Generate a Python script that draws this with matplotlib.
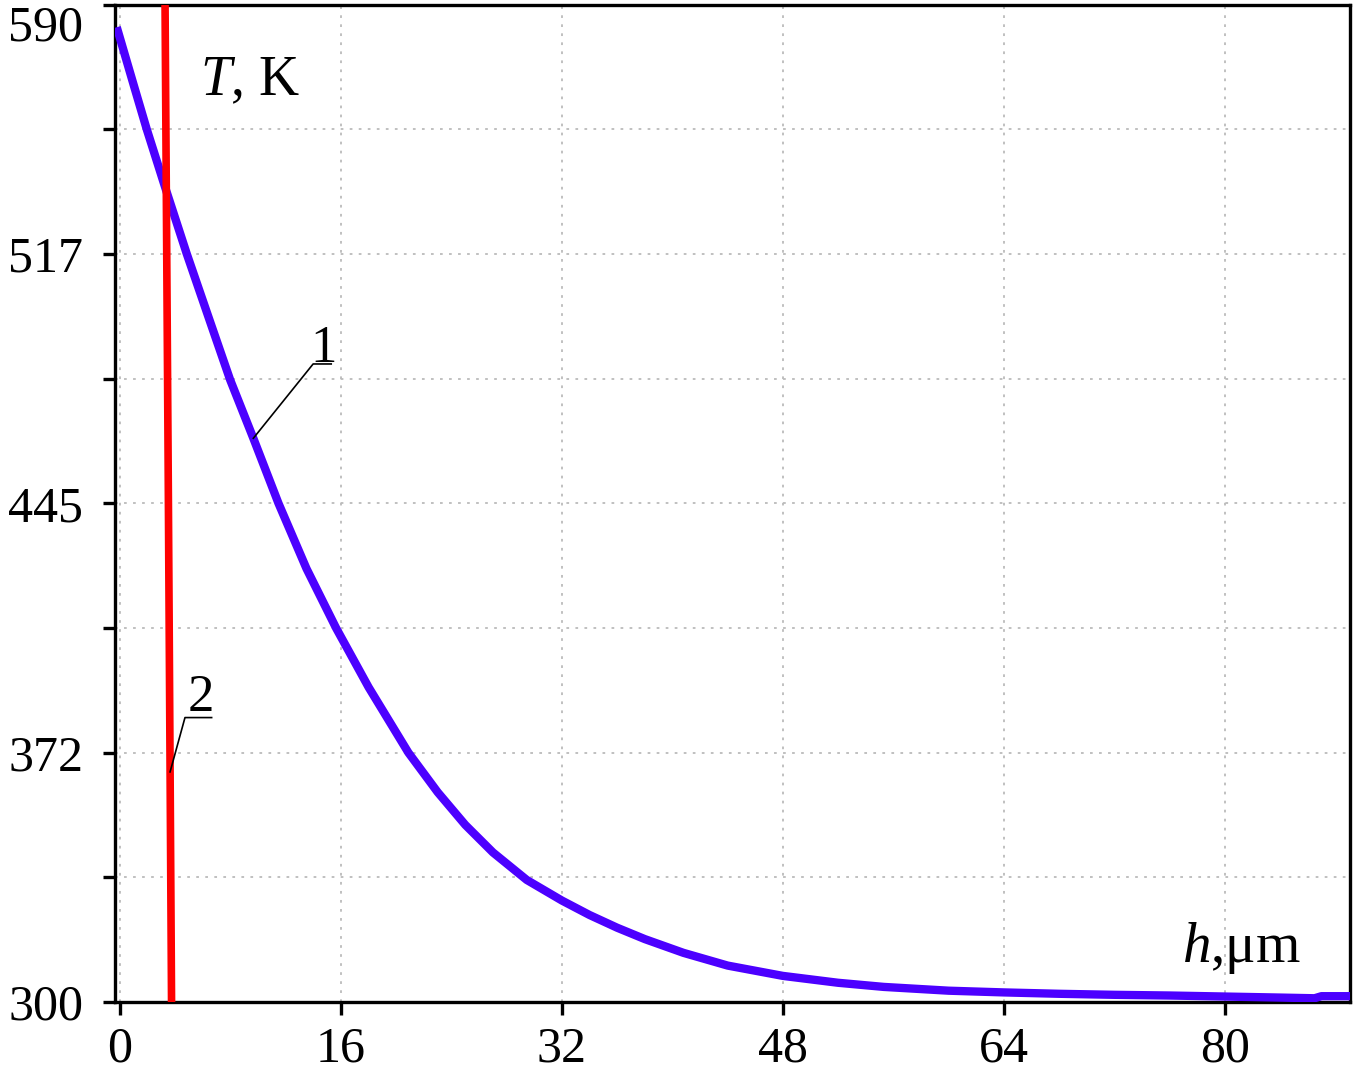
import matplotlib
matplotlib.use('Agg')
import matplotlib.pyplot as plt
import numpy as np

plt.rcParams['font.family'] = ['Liberation Serif', 'DejaVu Serif']
plt.rcParams['mathtext.fontset'] = 'custom'
plt.rcParams['mathtext.rm'] = 'Liberation Serif'
plt.rcParams['mathtext.it'] = 'Liberation Serif:italic'

# curve 1 - temperature vs depth
h1 = [-0.24, 1.0, 1.93, 3.26, 4.83, 6.5, 7.97, 9.65, 11.47, 13.5, 15.64, 18.0,
      20.88, 23.0, 25.0, 27.0, 29.45, 32.0, 34.0, 36.0, 38.0, 40.8, 44.0, 48.0,
      52.0, 55.3, 60.0, 64.0, 68.0, 72.0, 76.0, 80.0, 84.0, 86.5, 87.0, 89.1]
T1 = [583.4, 566.4, 553.75, 536.9, 517.5, 498.0, 480.9, 463.9, 445.0, 426.0,
      408.75, 391.5, 372.5, 361.0, 351.5, 343.5, 335.5, 329.5, 325.3, 321.6,
      318.3, 314.3, 310.6, 307.6, 305.6, 304.4, 303.3, 302.8, 302.4, 302.1,
      301.9, 301.6, 301.3, 301.1, 301.7, 301.7]

# curve 2 - nearly vertical line
h2 = [3.24, 3.50, 3.73]
T2 = [600.0, 445.0, 298.0]

xticks = [0, 16, 32, 48, 64, 80]
yticks = [300, 372.5, 445, 517.5, 590]
ytick_labels = ['300', '372', '445', '517', '590']
yminor = [336.25, 408.75, 481.25, 553.75]

fig = plt.figure(figsize=(13.59, 10.74), dpi=100)
ax = fig.add_axes([0.0846, 0.0670, 0.9088, 0.9288])

ax.plot(h1, T1, color='#4c00ff', lw=6, solid_capstyle='butt',
        solid_joinstyle='round', zorder=3)
ax.plot(h2, T2, color='#ff0000', lw=5.5, solid_capstyle='butt', zorder=3)

ax.set_xlim(-0.37, 89.07)
ax.set_ylim(300, 590)
ax.set_xticks(xticks)
ax.set_xticklabels([str(t) for t in xticks])
ax.set_yticks(yticks)
ax.set_yticklabels(ytick_labels)
ax.set_yticks(yminor, minor=True)

ax.grid(True, which='both', axis='y', ls=(0, (1.5, 3.5)), color='#bbbbbb', lw=1.3)
ax.grid(True, which='major', axis='x', ls=(0, (1.5, 3.5)), color='#bbbbbb', lw=1.3)
ax.set_axisbelow(True)

for s in ax.spines.values():
    s.set_linewidth(2.4)
    s.set_color('black')

ax.tick_params(axis='both', which='both', direction='out', length=9, width=2.4,
               labelsize=36, colors='black')
ax.tick_params(axis='y', which='both', pad=14)
ax.tick_params(axis='x', which='both', pad=8)

labs = ax.get_yticklabels()
labs[-1].set_va('top')

# axis captions inside the plot
ax.text(5.79, 563.6, r'$T$, K', fontsize=40, ha='left', va='baseline')
ax.text(76.9, 311.6, r'$h$,μm', fontsize=41, ha='left', va='baseline')

# curve labels with leader lines
ax.text(13.8, 486.0, '1', fontsize=38, ha='left', va='baseline')
ax.plot([9.65, 13.98, 15.29], [463.9, 485.5, 485.5], color='black', lw=1.2, zorder=4)
ax.text(4.92, 384.5, '2', fontsize=38, ha='left', va='baseline')
ax.plot([3.62, 4.70, 6.63], [366.9, 382.7, 382.7], color='black', lw=1.2, zorder=4)

fig.savefig('out.png', dpi=100)
